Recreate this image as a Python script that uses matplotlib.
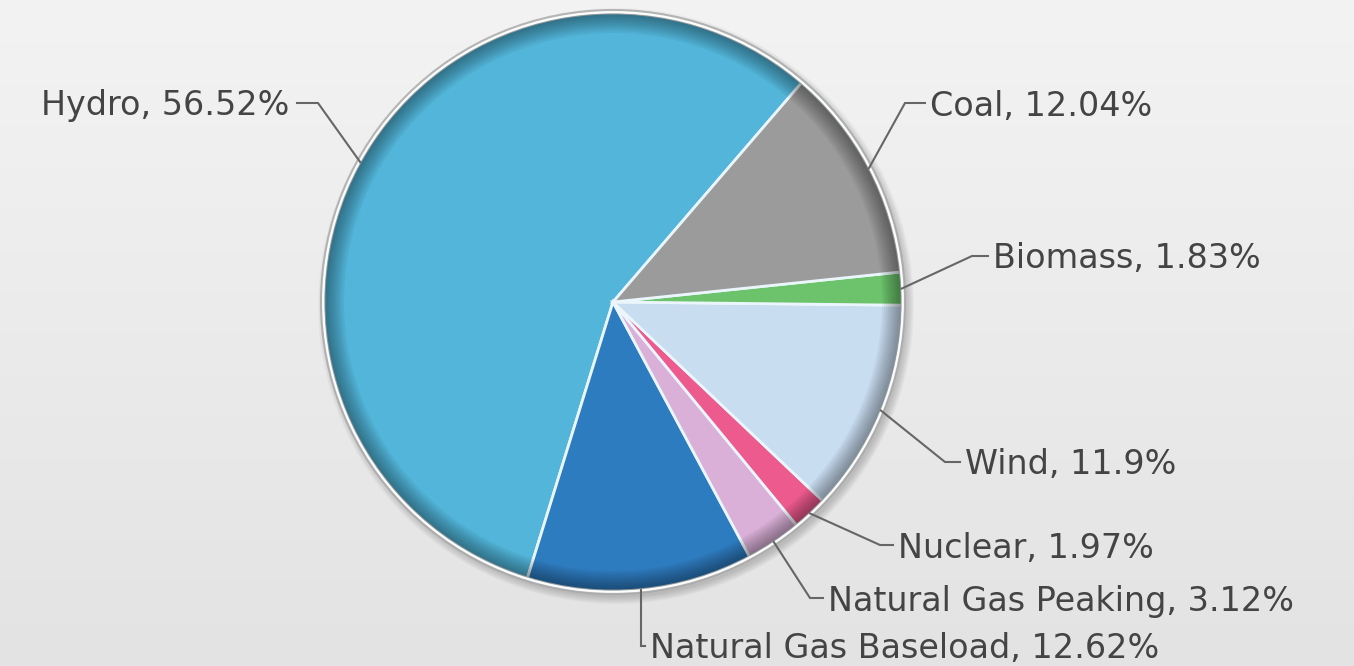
import numpy as np
import matplotlib.pyplot as plt
from matplotlib.patches import Wedge, Circle

# generation mix, listed counter-clockwise from the hydro slice
sources = ['Hydro', 'Natural Gas Baseload', 'Natural Gas Peaking', 'Nuclear',
           'Wind', 'Biomass', 'Coal']
shares = [56.52, 12.62, 3.12, 1.97, 11.9, 1.83, 12.04]
colors = ['#52b5d9', '#2e7cc0', '#dab0d8', '#ec5a8e', '#c9ddf1', '#6cc36c', '#9b9b9b']

W, H = 1354, 666
CX, CY, R = 613, H - 302, 289

# label layout: (elbow x, elbow y, text x, text y, align) in pixel coords, y from top
LAYOUT = {
    'Hydro':                (318, 103, 297, 103, 'right'),
    'Coal':                 (905, 103, 925, 103, 'left'),
    'Biomass':              (972, 256, 988, 256, 'left'),
    'Wind':                 (945, 462, 960, 462, 'left'),
    'Nuclear':              (880, 545, 893, 545, 'left'),
    'Natural Gas Peaking':  (810, 598, 823, 598, 'left'),
    'Natural Gas Baseload': (None, 646, 645, 646, 'left'),
}

fig = plt.figure(figsize=(W / 100, H / 100), dpi=100)

# soft grey backdrop
bg = fig.add_axes([0, 0, 1, 1])
grad = np.linspace(0, 1, 256).reshape(-1, 1)
bg.imshow(grad, aspect='auto', cmap=plt.matplotlib.colors.LinearSegmentedColormap.from_list(
    'bg', ['#f3f3f3', '#e3e3e3']), extent=[0, 1, 0, 1])
bg.axis('off')

ax = fig.add_axes([0, 0, 1, 1])
ax.patch.set_alpha(0)

# drop shadow
for k in range(8):
    ax.add_patch(Circle((CX + 3, CY - 4), R + 2 + k, color='black', alpha=0.025, lw=0, zorder=0))

wedges, _ = ax.pie(shares, colors=colors, startangle=49.3, counterclock=True,
                   center=(CX, CY), radius=R, frame=True,
                   wedgeprops=dict(edgecolor='#eaf6fb', linewidth=2))

# darker rim towards the edge
for k in range(1, 11):
    ax.add_patch(Wedge((CX, CY), R, 0, 360, width=2 * k, color='black', alpha=0.042, lw=0, zorder=3))
ax.add_patch(Circle((CX, CY), R + 1, fill=False, ec='white', lw=2, alpha=0.9, zorder=4))
ax.add_patch(Circle((CX, CY), R + 3, fill=False, ec='#a8a8a8', lw=1.5, alpha=0.8, zorder=4))

# leader lines and labels
for w, name, val in zip(wedges, sources, shares):
    mid = np.deg2rad((w.theta1 + w.theta2) / 2)
    ex, ey = CX + R * np.cos(mid), CY + R * np.sin(mid)
    bx, by, tx, ty, ha = LAYOUT[name]
    if bx is None:
        bx = ex
    xs = [ex, bx, tx]
    ys = [ey, H - by, H - ty]
    ax.plot(xs, ys, color='#666666', lw=1.5, zorder=5, solid_joinstyle='miter')
    off = 5 if ha == 'left' else -8
    ax.text(tx + off, H - ty - 3, f'{name}, {val:g}%', ha=ha, va='center',
            fontsize=24, color='#444444', family='DejaVu Sans', zorder=6)

ax.set_xlim(0, W)
ax.set_ylim(0, H)
ax.set_aspect('equal')
ax.axis('off')

fig.savefig('out.png', dpi=100)
